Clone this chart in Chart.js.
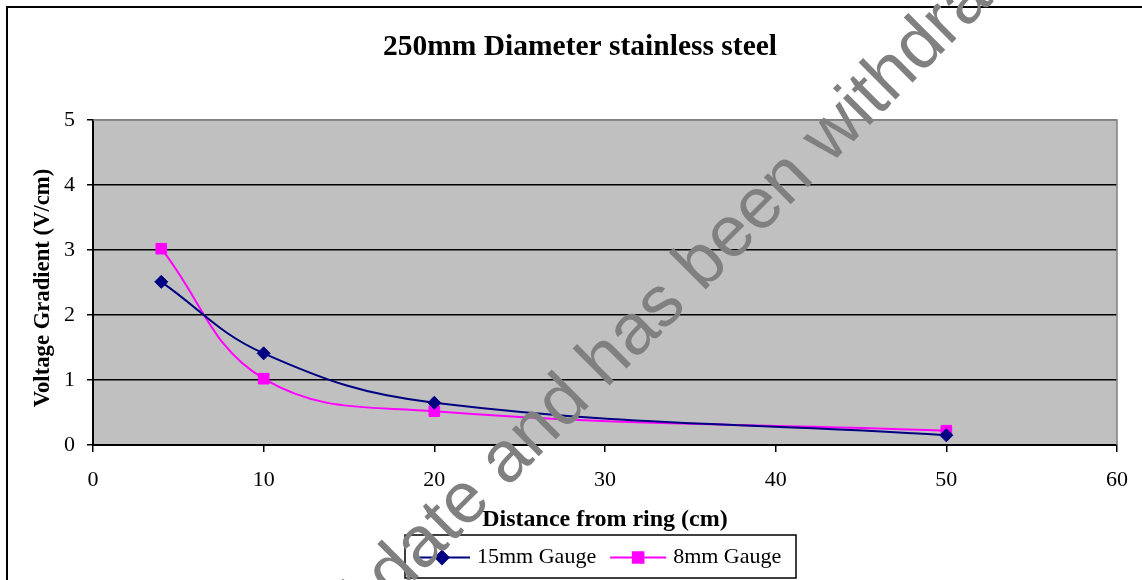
<!DOCTYPE html>
<html>
<head>
<meta charset="utf-8">
<title>250mm Diameter stainless steel</title>
<script src="https://cdn.jsdelivr.net/npm/chart.js@4.4.0/dist/chart.umd.min.js"></script>
<style>
  html, body { margin: 0; padding: 0; background: #fff; }
  #wrap { width: 1142px; height: 580px; }
</style>
</head>
<body>
<div id="wrap"><canvas id="gradChart" width="1142" height="580"></canvas></div>
<script>
// Chart values
const distances = [4, 10, 20, 50];
const gauge15 = [2.51, 1.41, 0.65, 0.15];
const gauge8 = [3.02, 1.02, 0.52, 0.22];
const seriesNames = ["15mm Gauge", "8mm Gauge"];
const xTicks = [0, 10, 20, 30, 40, 50, 60];
const yTicks = [0, 1, 2, 3, 4, 5];
const chartTitle = "250mm Diameter stainless steel";
const xTitle = "Distance from ring (cm)";
const yTitle = "Voltage Gradient (V/cm)";
const watermarkLead = "out of date ";
const watermarkTail = "and has been withdrawn";

const serif = "'Liberation Serif', 'Times New Roman', serif";

const toPoints = ys => distances.map((x, i) => ({ x: x, y: ys[i] }));

// white page, outer frame, titles and grey plot area
const backdrop = {
  id: "backdrop",
  beforeDraw(chart) {
    const { ctx, chartArea: a } = chart;
    ctx.save();
    ctx.fillStyle = "#fff";
    ctx.fillRect(0, 0, chart.width, chart.height);
    ctx.fillStyle = "#000";
    ctx.fillRect(6, 6, 2, chart.height - 6);
    ctx.fillRect(6, 6, chart.width - 6, 2);
    ctx.fillStyle = "#c0c0c0";
    ctx.fillRect(a.left, a.top, a.right - a.left, a.bottom - a.top);
    // chart title sits centred on the page, not on the plot
    ctx.fillStyle = "#000";
    ctx.font = "bold 29.5px " + serif;
    ctx.textAlign = "center";
    ctx.textBaseline = "middle";
    ctx.fillText(chartTitle, 580, 47);
    // y axis title, a little below the plot centre
    ctx.translate(43, 288);
    ctx.rotate(-Math.PI / 2);
    ctx.font = "bold 22.7px " + serif;
    ctx.fillText(yTitle, 0, 0);
    ctx.restore();
  },
  beforeDatasetsDraw(chart) {
    const { ctx, chartArea: a } = chart;
    ctx.save();
    ctx.strokeStyle = "#808080";
    ctx.lineWidth = 1.5;
    ctx.beginPath();
    ctx.moveTo(a.left, a.top);
    ctx.lineTo(a.right, a.top);
    ctx.lineTo(a.right, a.bottom);
    ctx.stroke();
    ctx.restore();
  }
};

// legend box under the axis title: line + marker + label
const boxLegend = {
  id: "boxLegend",
  afterDraw(chart) {
    const { ctx } = chart;
    const box = { x: 405, y: 535, w: 391, h: 43 };
    const cy = box.y + box.h / 2 + 1;
    ctx.save();
    ctx.fillStyle = "#fff";
    ctx.fillRect(box.x, box.y, box.w, box.h);
    ctx.strokeStyle = "#000";
    ctx.lineWidth = 1.5;
    ctx.strokeRect(box.x, box.y, box.w, box.h);
    ctx.font = "22px " + serif;
    ctx.textBaseline = "middle";
    ctx.textAlign = "left";
    let x = box.x + 9;
    chart.data.datasets.forEach(ds => {
      ctx.strokeStyle = ds.borderColor;
      ctx.lineWidth = ds.borderWidth;
      ctx.beginPath();
      ctx.moveTo(x, cy);
      ctx.lineTo(x + 56, cy);
      ctx.stroke();
      ctx.fillStyle = ds.pointBackgroundColor;
      ctx.strokeStyle = ds.pointBorderColor;
      Chart.helpers.drawPoint(ctx, {
        pointStyle: ds.pointStyle,
        radius: ds.pointRadius,
        borderWidth: ds.pointBorderWidth,
        rotation: 0
      }, x + 28, cy);
      ctx.fillStyle = "#000";
      ctx.fillText(ds.label, x + 63, cy);
      x += 63 + ctx.measureText(ds.label).width + 14;
    });
    ctx.restore();
  }
};

// diagonal grey watermark across the page
const watermark = {
  id: "watermark",
  afterDraw(chart) {
    const { ctx } = chart;
    ctx.save();
    ctx.translate(507, 488);
    ctx.rotate(-Math.PI / 4);
    ctx.font = "72px 'Liberation Sans', Arial, sans-serif";
    ctx.fillStyle = "#808080";
    ctx.textBaseline = "alphabetic";
    ctx.textAlign = "right";
    ctx.fillText(watermarkLead, 0, 0);
    ctx.textAlign = "left";
    ctx.fillText(watermarkTail, 0, 0);
    ctx.restore();
  }
};

const ctx = document.getElementById("gradChart").getContext("2d");
new Chart(ctx, {
  type: "scatter",
  data: {
    datasets: [{
      label: seriesNames[0],
      data: toPoints(gauge15),
      showLine: true,
      borderColor: "#000080",
      borderWidth: 2,
      tension: 0.4,
      pointStyle: "rectRot",
      pointRadius: 6.5,
      pointBorderWidth: 1,
      pointBackgroundColor: "#000080",
      pointBorderColor: "#000080"
    }, {
      label: seriesNames[1],
      data: toPoints(gauge8),
      showLine: true,
      borderColor: "#ff00ff",
      borderWidth: 2,
      tension: 0.4,
      pointStyle: "rect",
      pointRadius: 7.5,
      pointBorderWidth: 1,
      pointBackgroundColor: "#ff00ff",
      pointBorderColor: "#ff00ff"
    }]
  },
  options: {
    responsive: false,
    animation: false,
    layout: { padding: { left: 0, right: 25, top: 120, bottom: 45 } },
    plugins: {
      legend: { display: false },
      tooltip: { enabled: false },
      title: { display: false }
    },
    scales: {
      x: {
        type: "linear",
        min: 0,
        max: 60,
        afterBuildTicks: s => { s.ticks = xTicks.map(v => ({ value: v })); },
        afterFit: s => { s.height = 90; },
        grid: { drawOnChartArea: false, color: "#000", tickColor: "#000", tickLength: 7, lineWidth: 1.5 },
        border: { color: "#000", width: 2 },
        ticks: { color: "#000", font: { family: serif, size: 22, lineHeight: 1.4 }, padding: 13, maxRotation: 0 },
        title: {
          display: true,
          text: xTitle,
          color: "#000",
          font: { family: serif, size: 24, weight: "bold" },
          padding: { top: 0, bottom: 1 }
        }
      },
      y: {
        type: "linear",
        min: 0,
        max: 5,
        afterBuildTicks: s => { s.ticks = yTicks.map(v => ({ value: v })); },
        afterFit: s => { s.width = 93; },
        grid: {
          color: c => (c.tick && c.tick.value === 5 ? "#808080" : "#000"),
          tickColor: "#000",
          tickLength: 6,
          lineWidth: 1.5
        },
        border: { color: "#000", width: 2 },
        ticks: { color: "#000", font: { family: serif, size: 22 }, padding: 12 },
        title: { display: false }
      }
    }
  },
  plugins: [backdrop, boxLegend, watermark]
});
</script>
</body>
</html>
